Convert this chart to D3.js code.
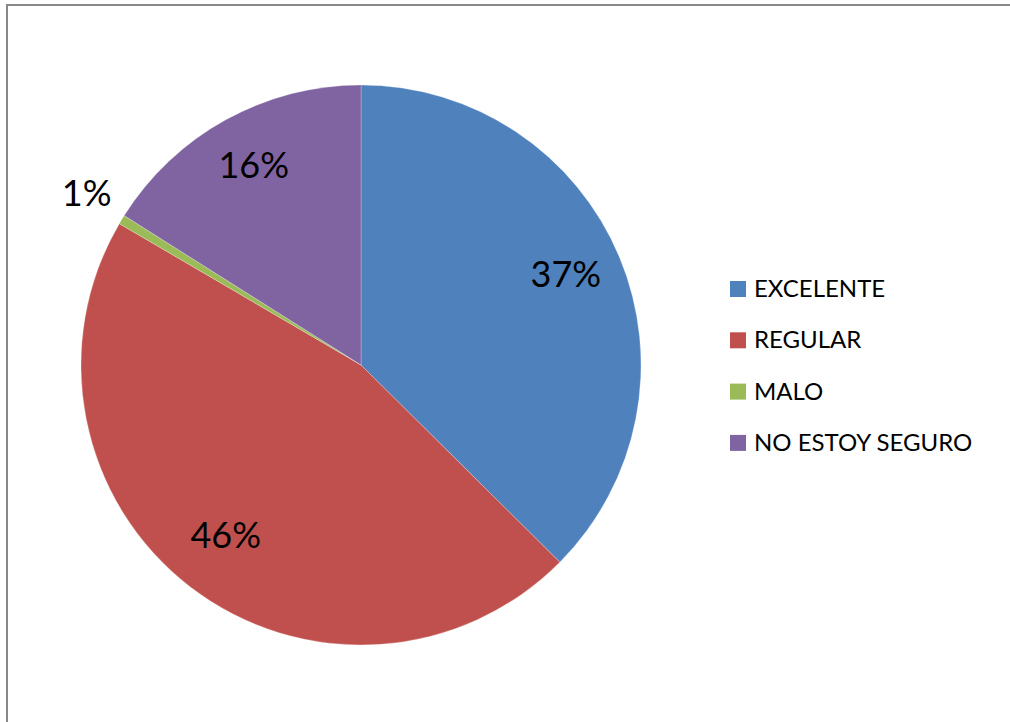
<!DOCTYPE html>
<meta charset="utf-8">
<script src="https://d3js.org/d3.v7.min.js"></script>
<style>
  body { margin: 0; background: #fff; }
  svg text { font-family: Lato, "Open Sans", sans-serif; fill: #000; }
</style>
<div id="chart"></div>
<script>
// data (counts, shown as percentages)
var categories = ["EXCELENTE", "REGULAR", "MALO", "NO ESTOY SEGURO"];
var counts = [70, 86, 1, 30];
var colors = ["#4F81BD", "#C0504D", "#9BBB59", "#8064A2"];

var W = 1010, H = 722;
var svg = d3.select("#chart").append("svg")
  .attr("width", W).attr("height", H);

// chart frame
svg.append("rect")
  .attr("x", 7).attr("y", 5)
  .attr("width", W + 20).attr("height", H + 20)
  .attr("fill", "none")
  .attr("stroke", "#888")
  .attr("stroke-width", 2);

var cx = 361, cy = 365, R = 280;
var total = d3.sum(counts);

var pie = d3.pie().sort(null).value(function(d) { return d; });
var arcs = pie(counts);
var arc = d3.arc().innerRadius(0).outerRadius(R);

var g = svg.append("g").attr("transform", "translate(" + cx + "," + cy + ")");

g.selectAll("path.slice")
  .data(arcs)
  .enter().append("path")
  .attr("class", "slice")
  .attr("d", arc)
  .attr("fill", function(d, i) { return colors[i]; })
  .attr("stroke", "rgba(255,255,255,0.35)")
  .attr("stroke-width", 0.7);

// labels: inside for big slices, outside for tiny ones
var inArc = d3.arc().innerRadius(222).outerRadius(222);
var outArc = d3.arc().innerRadius(321).outerRadius(321);

g.selectAll("text.lbl")
  .data(arcs)
  .enter().append("text")
  .attr("class", "lbl")
  .attr("transform", function(d) {
    var a = (d.endAngle - d.startAngle) < 0.2 ? outArc : inArc;
    return "translate(" + a.centroid(d) + ")";
  })
  .attr("text-anchor", "middle")
  .attr("dy", "0.2em")
  .style("font-size", "36px")
  .text(function(d) { return Math.round(d.data / total * 100) + "%"; });

// legend
var legend = svg.selectAll("g.legend")
  .data(categories)
  .enter().append("g")
  .attr("class", "legend")
  .attr("transform", function(d, i) { return "translate(730," + (289 + i * 51.3) + ")"; });

legend.append("rect")
  .attr("x", 0).attr("y", -8)
  .attr("width", 16).attr("height", 16)
  .attr("fill", function(d, i) { return colors[i]; });

legend.append("text")
  .attr("x", 24)
  .attr("y", 8)
  .style("font-size", "24px")
  .text(function(d) { return d; });
</script>
